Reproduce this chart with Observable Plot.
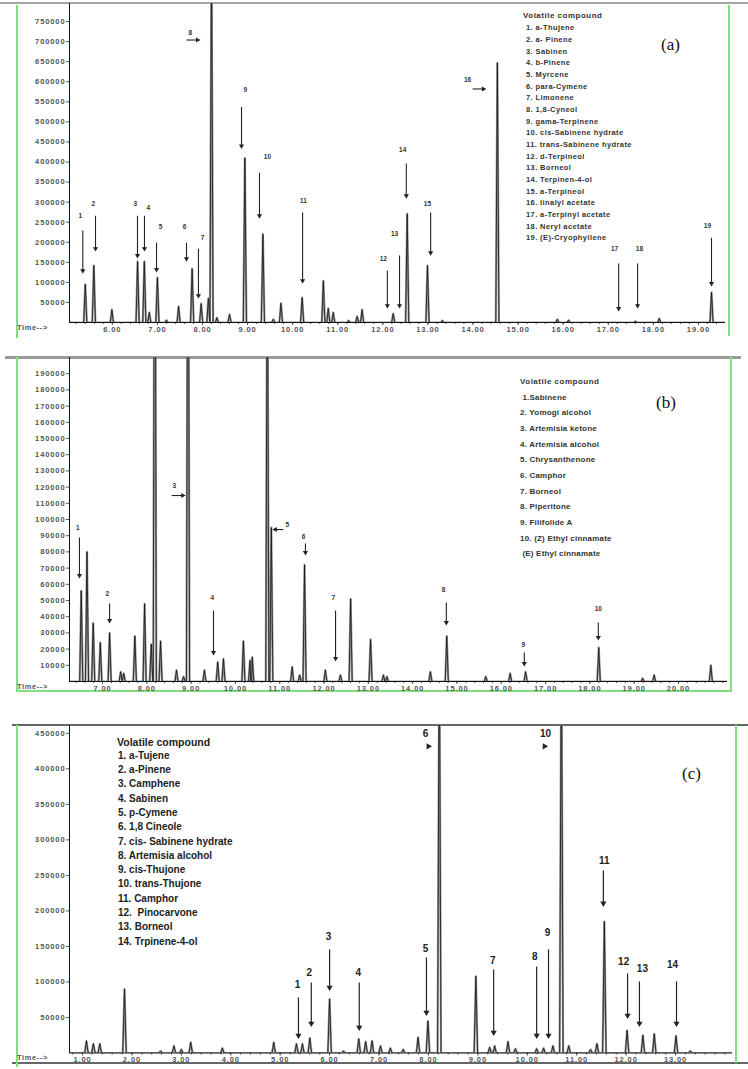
<!DOCTYPE html>
<html><head><meta charset="utf-8">
<script src="https://cdn.jsdelivr.net/npm/d3@7"></script>
<script src="https://cdn.jsdelivr.net/npm/@observablehq/plot@0.6"></script>
<style>
body{margin:0;background:#fff;}
#wrap{position:relative;width:748px;height:1069px;overflow:hidden;font-family:"Liberation Sans",Arial,sans-serif;background:#fff;}
.ln{position:absolute;}
.tx{position:absolute;white-space:pre;line-height:1;transform:translateY(-50%);}
g[aria-label$="tick label"] text{letter-spacing:0.9px;}
</style></head><body><div id="wrap"></div>
<script>
// ---------------- Panel (a) ----------------
const peakTimeA = [5.40,5.59,5.99,6.56,6.71,6.82,7.00,7.20,7.47,7.77,7.97,8.13,8.20,8.32,8.60,8.94,9.34,9.57,9.74,10.21,10.68,10.79,10.90,11.24,11.43,11.54,12.23,12.54,12.99,13.32,14.54,15.87,16.12,17.60,18.13,19.29];
const peakHeightA = [95000,142000,32000,152000,152000,25000,112000,6000,40000,134000,47000,60000,950000,12000,20000,410000,220000,8000,48000,62000,104000,35000,25000,5000,15000,32000,22000,271000,142000,5000,647000,8000,6000,3000,10000,75000];
const xTicksA = [6,7,8,9,10,11,12,13,14,15,16,17,18,19];
const yTicksA = [50000,100000,150000,200000,250000,300000,350000,400000,450000,500000,550000,600000,650000,700000,750000];
const arrowLabelA = ["1","2","3","4","5","6","7","8","9","10","11","12","13","14","15","16","17","18","19"];
const arrowX1A = [5.345,5.627,6.558,6.713,6.98,7.645,7.91,7.645,8.865,9.264,10.22,12.10,12.37,12.52,13.06,13.99,17.23,17.65,19.29];
const arrowX2A = [5.345,5.627,6.558,6.713,6.98,7.645,7.91,7.89,8.865,9.264,10.22,12.10,12.37,12.52,13.06,14.23,17.23,17.65,19.29];
const arrowY1A = [229000,266000,266000,266000,199000,199000,184000,704000,537000,373000,274000,129000,167000,396000,274000,582000,147000,147000,211000];
const arrowY2A = [129000,184000,167000,184000,132000,159000,67000,704000,440000,266000,104000,42000,42000,316000,174000,582000,35000,42000,97000];
const labelXA = [5.29,5.58,6.51,6.80,7.07,7.60,8.00,7.73,8.95,9.44,10.24,12.01,12.26,12.44,12.99,13.88,17.14,17.69,19.20];
const labelYA = [266000,296000,296000,286000,239000,239000,211000,721000,580000,413000,303000,159000,221000,430000,296000,604000,184000,184000,241000];
const legendA = ["1. a-Thujene","2. a- Pinene","3. Sabinen","4. b-Pinene","5. Myrcene","6. para-Cymene","7. Limonene","8. 1,8-Cyneol","9. gama-Terpinene","10. cis-Sabinene hydrate","11. trans-Sabinene hydrate","12. d-Terpineol","13. Borneol","14. Terpinen-4-ol","15. a-Terpineol","16. linalyl acetate","17. a-Terpinyl acetate","18. Neryl acetate","19. (E)-Cryophyllene"];

// ---------------- Panel (b) ----------------
const peakTimeB = [6.52,6.65,6.79,6.95,7.16,7.41,7.48,7.73,7.95,8.10,8.18,8.31,8.67,8.83,8.93,9.30,9.60,9.73,10.18,10.33,10.38,10.72,10.81,11.28,11.45,11.56,12.03,12.37,12.60,13.05,13.34,13.42,14.40,14.77,15.65,16.20,16.55,18.20,19.19,19.45,20.73];
const peakHeightB = [56000,80000,36000,24000,30000,6000,5000,28000,48000,23000,420000,25000,7000,3000,400000,7000,12000,14000,25000,13000,15000,300000,95000,9000,4000,72000,7000,4000,51000,26000,4000,3000,6000,28000,3000,5000,6000,21000,2000,4000,10000];
const xTicksB = [7,8,9,10,11,12,13,14,15,16,17,18,19,20];
const yTicksB = [10000,20000,30000,40000,50000,60000,70000,80000,90000,100000,110000,120000,130000,140000,150000,160000,170000,180000,190000];
const arrowLabelB = ["1","2","3","4","5","6","7","8","9","10"];
const arrowX1B = [6.48,7.16,8.56,9.505,11.08,11.58,12.26,14.76,16.52,18.19];
const arrowX2B = [6.48,7.16,8.81,9.505,10.90,11.58,12.26,14.76,16.52,18.19];
const arrowY1B = [88900,48100,114800,43800,93800,85200,43800,48800,17900,36400];
const arrowY2B = [65400,37700,114800,17900,93800,79600,14200,36400,11100,27200];
const labelXB = [6.44,7.11,8.62,9.48,11.17,11.54,12.21,14.70,16.50,18.19];
const labelYB = [95000,54300,121000,51900,96900,89500,51900,56800,22800,45100];
const legendB = [" 1.Sabinene","2. Yomogi alcohol","3. Artemisia ketone","4. Artemisia alcohol","5. Chrysanthenone","6. Camphor","7. Borneol","8. Piperitone","9. Filifolide A","10. (Z) Ethyl cinnamate"," (E) Ethyl cinnamate"];

// ---------------- Panel (c) ----------------
const peakTimeC = [1.08,1.22,1.35,1.85,2.58,2.85,3.00,3.19,3.83,4.87,5.33,5.45,5.60,6.00,6.28,6.59,6.73,6.86,7.03,7.23,7.49,7.79,7.99,8.22,8.96,9.24,9.34,9.61,9.76,10.19,10.33,10.52,10.69,10.84,11.28,11.41,11.56,12.02,12.34,12.57,13.01,13.30];
const peakHeightC = [17000,13000,13000,90000,3000,10000,5000,15000,7000,15000,13000,13000,21000,76000,3000,20000,16000,17000,10000,7000,5000,22000,45000,600000,108000,8000,10000,16000,6000,6000,7000,10000,600000,10000,5000,13000,185000,32000,25000,27000,24000,3000];
const xTicksC = [1,2,3,4,5,6,7,8,9,10,11,12,13];
const yTicksC = [50000,100000,150000,200000,250000,300000,350000,400000,450000];
const arrowLabelC = ["1","2","3","4","5","6","7","8","9","10","11","12","13","14"];
const arrowX1C = [5.37,5.63,6.00,6.60,7.96,7.97,9.32,10.19,10.43,10.32,11.54,12.03,12.27,13.02];
const arrowX2C = [5.37,5.63,6.00,6.60,7.96,8.00,9.32,10.19,10.43,10.35,11.54,12.03,12.27,13.02];
const arrowY1C = [78200,99300,145800,99300,134500,431700,117600,121800,145800,431700,257000,112000,100700,100700];
const arrowY2C = [24600,41500,92300,35900,57000,431700,28900,24600,24600,431700,210600,52800,41500,41500];
const labelXC = [5.35,5.59,5.98,6.58,7.94,7.94,9.30,10.15,10.41,10.37,11.56,11.95,12.33,12.94];
const labelYC = [96500,113400,164000,113400,147000,450000,130000,136000,169700,450000,270000,129000,119000,124600];
const legendC = ["1. a-Tujene","2. a-Pinene","3. Camphene","4. Sabinen","5. p-Cymene","6. 1,8 Cineole","7. cis- Sabinene hydrate","8. Artemisia alcohol","9. cis-Thujone","10. trans-Thujone","11. Camphor","12.  Pinocarvone","13. Borneol","14. Trpinene-4-ol"];

// ---------------- helpers ----------------
const wrap = document.getElementById("wrap");

function trace(times, heights, w, x0, x1) {
  const pts = [{t: x0, v: 0}];
  times.forEach((t, i) => { pts.push({t: t - w, v: 0}, {t, v: heights[i]}, {t: t + w, v: 0}); });
  pts.push({t: x1, v: 0});
  pts.sort((a, b) => a.t - b.t);
  return pts;
}

function arrows(labels, x1, x2, y1, y2) {
  return labels.map((l, i) => {
    const rot = x2[i] > x1[i] ? 90 : x2[i] < x1[i] ? 270 : 180;
    return {l, x1: x1[i], x2: x2[i], y1: y1[i], y2: y2[i], rot};
  });
}

function panel(c) {
  const pts = trace(c.times, c.heights, c.w, c.x0, c.x1);
  const arr = arrows(c.labels, c.ax1, c.ax2, c.ay1, c.ay2);
  const lab = c.labels.map((l, i) => ({l, x: c.lx[i], y: c.ly[i]}));
  const minor = d3.range(Math.ceil(c.x0 * 5) / 5, c.x1, 0.2);
  const svg = Plot.plot({
    width: 748, height: c.height,
    marginLeft: 69, marginRight: c.mr, marginTop: c.mt, marginBottom: c.mb,
    x: {domain: [c.x0, c.x1]},
    y: {domain: [0, c.ymax]},
    style: {fontFamily: "Liberation Sans, Arial, sans-serif", color: "#555", background: "transparent", overflow: "visible"},
    marks: [
      Plot.axisY({ticks: c.yTicks, tickSize: 3, tickPadding: 1, tickFormat: d => String(d), fontSize: 7.5, fontWeight: "bold", label: null}),
      Plot.axisX({ticks: minor, tickSize: 2, tickFormat: () => "", label: null}),
      Plot.axisX({ticks: c.xTicks, tickSize: 3, tickPadding: 1, tickFormat: d3.format(".2f"), fontSize: 7.5, fontWeight: "bold", label: null}),
      Plot.line(pts, {x: "t", y: "v", stroke: "#9a9a9a", strokeWidth: 2.2, clip: true}),
      Plot.line(pts, {x: "t", y: "v", stroke: "#111", strokeWidth: 0.8, clip: true}),
      Plot.ruleX([c.x0], {stroke: "#111", strokeWidth: 1}),
      Plot.ruleY([0], {stroke: "#111", strokeWidth: 1}),
      Plot.link(arr, {x1: "x1", y1: "y1", x2: "x2", y2: "y2", stroke: "#222", strokeWidth: c.aw}),
      Plot.dot(arr, {x: "x2", y: "y2", symbol: "triangle", r: c.hr, fill: "#222", stroke: "none", rotate: "rot"}),
      Plot.text(lab, {x: "x", y: "y", text: "l", fontSize: c.lfs, fontWeight: "bold", fill: c.lfill})
    ]
  });
  svg.style.position = "absolute";
  svg.style.left = "0px";
  svg.style.top = c.top + "px";
  wrap.appendChild(svg);
}

function hline(x, y, w, h, color) {
  const d = document.createElement("div");
  d.className = "ln";
  Object.assign(d.style, {left: x + "px", top: y + "px", width: w + "px", height: h + "px", background: color});
  wrap.appendChild(d);
}

function text(str, x, y, css) {
  const d = document.createElement("div");
  d.className = "tx";
  d.textContent = str;
  d.style.left = x + "px";
  d.style.top = y + "px";
  Object.assign(d.style, css);
  wrap.appendChild(d);
}

function legend(title, items, xt, xi, yt, y0, dy, tcss, icss) {
  text(title, xt, yt, tcss);
  items.forEach((s, i) => text(s, xi, y0 + i * dy, icss));
}

// frames (light green sides, gray tops)
const green = "#7fe07f";
hline(0, 2, 748, 2, "#a5a5a5");
hline(16, 5, 2, 333, green);
hline(728, 5, 2, 331, green);
hline(5, 356, 736, 2.5, "#9a9a9a");
hline(16, 357, 2, 335, green);
hline(730, 357, 2, 335, green);
hline(16, 690, 716, 2, green);
hline(12, 724, 736, 2, "#666");
hline(12, 1062, 736, 2, "#666");
hline(16, 725, 2, 342, green);
hline(735, 725, 2, 338, green);

panel({top: 0, height: 340, mt: 3, mb: 18, mr: 23, x0: 5.05, x1: 19.6, ymax: 795000,
  times: peakTimeA, heights: peakHeightA, w: 0.035, xTicks: xTicksA, yTicks: yTicksA,
  labels: arrowLabelA, ax1: arrowX1A, ax2: arrowX2A, ay1: arrowY1A, ay2: arrowY2A, lx: labelXA, ly: labelYA,
  aw: 1.1, hr: 1.9, lfs: 6.5, lfill: "#333"});
panel({top: 340, height: 355, mt: 17, mb: 14, mr: 21, x0: 6.255, x1: 21.106, ymax: 200000,
  times: peakTimeB, heights: peakHeightB, w: 0.035, xTicks: xTicksB, yTicks: yTicksB,
  labels: arrowLabelB, ax1: arrowX1B, ax2: arrowX2B, ay1: arrowY1B, ay2: arrowY2B, lx: labelXB, ly: labelYB,
  aw: 1.1, hr: 1.9, lfs: 6.5, lfill: "#333"});
panel({top: 700, height: 369, mt: 25, mb: 16.5, mr: 16, x0: 0.737, x1: 14.153, ymax: 461000,
  times: peakTimeC, heights: peakHeightC, w: 0.035, xTicks: xTicksC, yTicks: yTicksC,
  labels: arrowLabelC, ax1: arrowX1C, ax2: arrowX2C, ay1: arrowY1C, ay2: arrowY2C, lx: labelXC, ly: labelYC,
  aw: 1.2, hr: 2.3, lfs: 10, lfill: "#222"});

// "Time-->" labels
const timeCss = {fontSize: "7.5px", fontWeight: "bold", color: "#555", letterSpacing: "0.6px"};
text("Time-->", 17, 328, timeCss);
text("Time-->", 17, 687, timeCss);
text("Time-->", 17, 1058, timeCss);

// legends
const smallT = {fontSize: "8px", fontWeight: "bold", color: "#333", letterSpacing: "0.5px"};
const smallI = {fontSize: "7.5px", fontWeight: "bold", color: "#333", letterSpacing: "0.4px"};
legend("Volatile compound", legendA, 523, 526, 16, 28.3, 11.67, smallT, smallI);
legend("Volatile compound", legendB, 520, 520, 382, 397.7, 15.66, smallT, {fontSize: "8px", fontWeight: "bold", color: "#333", letterSpacing: "0.2px"});
legend("Volatile compound", legendC, 117, 118, 741.7, 755.7, 14.31,
  {fontSize: "10.5px", fontWeight: "bold", color: "#222"}, {fontSize: "10px", fontWeight: "bold", color: "#222"});

// panel tags
const serif = {fontFamily: "'Liberation Serif','DejaVu Serif',serif", fontSize: "17px", color: "#111"};
text("(a)", 661, 44, serif);
text("(b)", 656, 402, serif);
text("(c)", 682, 773, serif);
</script></body></html>
